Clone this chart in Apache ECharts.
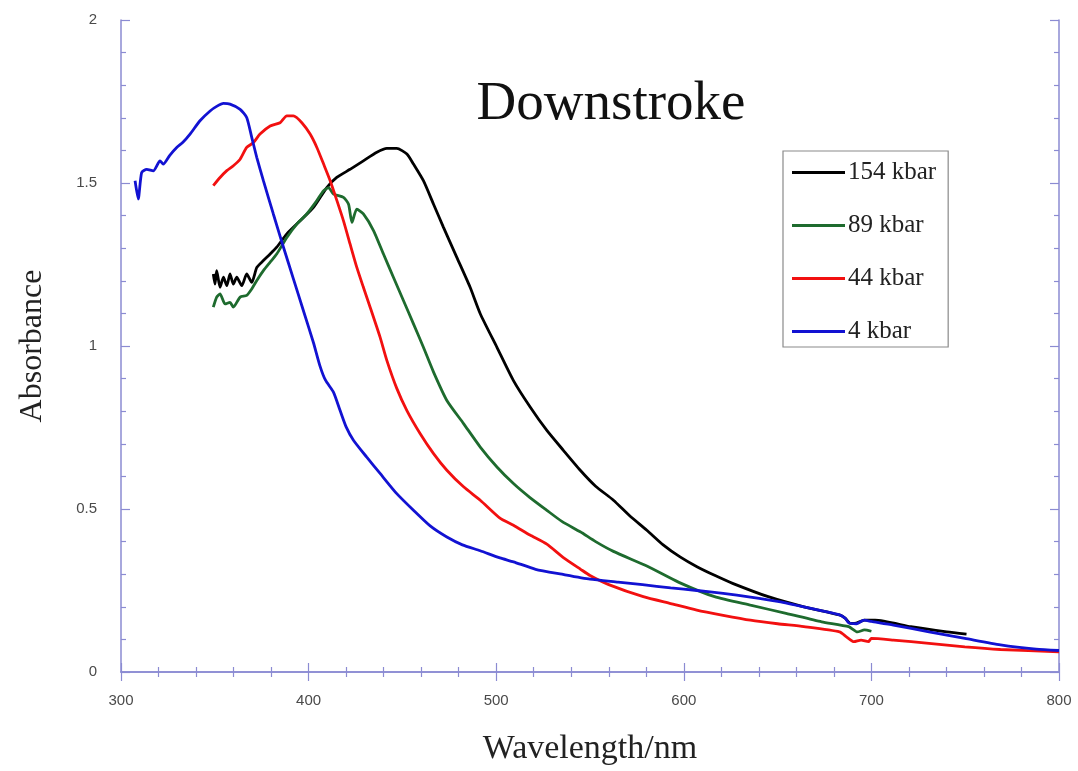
<!DOCTYPE html>
<html>
<head>
<meta charset="utf-8">
<script src="https://cdn.jsdelivr.net/npm/echarts@6/dist/echarts.min.js"></script>
<style>
  html, body { margin: 0; padding: 0; background: #fff; }
  #chart { width: 1078px; height: 771px; }
</style>
</head>
<body>
<div id="chart"></div>
<script>
// Absorption spectra on the downstroke, one series per pressure.
const seriesNames = ['154 kbar', '89 kbar', '44 kbar', '4 kbar'];
const seriesColors = ['#000000', '#1e6b2e', '#f21010', '#1212d2'];

const wl154 = [349.2, 350.1, 351, 352.8, 354.6, 356.4, 358.1, 359.9, 361.7, 364.4, 367, 369.7, 372.4, 375.9, 379.5, 383, 388.4, 395.5, 402.6, 409.7, 415, 422.1, 429.2, 436.4, 441.7, 447, 452.4, 455.9, 461.2, 466.6, 471.9, 479, 486.1, 491.5, 500.4, 509.2, 518.1, 527, 535.8, 544.8, 553, 562.5, 571, 580.3, 589, 598, 607, 617, 626, 645, 664, 683, 686, 688.8, 692, 696.3, 702, 721, 740.2, 750.7];
const abs154 = [1.221, 1.190, 1.231, 1.180, 1.211, 1.185, 1.221, 1.190, 1.211, 1.185, 1.221, 1.195, 1.241, 1.262, 1.282, 1.303, 1.344, 1.384, 1.425, 1.486, 1.517, 1.542, 1.568, 1.594, 1.606, 1.606, 1.589, 1.558, 1.507, 1.435, 1.364, 1.272, 1.180, 1.099, 0.996, 0.894, 0.813, 0.741, 0.680, 0.619, 0.570, 0.527, 0.480, 0.435, 0.390, 0.353, 0.323, 0.295, 0.272, 0.231, 0.200, 0.175, 0.165, 0.149, 0.150, 0.159, 0.159, 0.139, 0.123, 0.116];

const wl89 = [349.2, 351, 352.8, 355.5, 358.1, 359.9, 363.5, 367, 369.7, 372.4, 375.9, 379.5, 383, 388.4, 393.7, 399, 404.4, 407.9, 410.6, 413.3, 418.6, 421.3, 423.1, 425.7, 429.2, 434.6, 439.9, 445.2, 450.6, 455.9, 461.2, 466.6, 473.7, 482.6, 491.5, 500.4, 509.2, 518, 527, 535, 544.8, 553, 562.5, 580.3, 597.4, 616.4, 635.5, 654.5, 673.5, 687.9, 692.5, 696.3, 700];
const abs89 = [1.119, 1.150, 1.160, 1.129, 1.134, 1.119, 1.150, 1.155, 1.175, 1.201, 1.231, 1.257, 1.282, 1.333, 1.374, 1.405, 1.446, 1.476, 1.486, 1.466, 1.456, 1.435, 1.379, 1.420, 1.405, 1.354, 1.282, 1.211, 1.139, 1.068, 0.996, 0.920, 0.833, 0.762, 0.690, 0.629, 0.578, 0.535, 0.496, 0.462, 0.430, 0.400, 0.370, 0.325, 0.275, 0.231, 0.205, 0.180, 0.154, 0.139, 0.123, 0.129, 0.125];

const wl44 = [349.2, 352.8, 356.4, 359.9, 363.5, 367, 370.6, 374.1, 379.5, 384.8, 388.4, 391.9, 396.4, 400.8, 404.4, 408, 411.5, 415.1, 418.6, 422.1, 425.7, 429.2, 432.8, 438.1, 441.7, 447, 452.4, 459.5, 466.6, 473.7, 482.6, 491.5, 502, 509.2, 518, 527, 536, 545, 550, 560, 578.4, 593, 606.9, 621, 635.5, 650, 664, 683, 686.7, 690.7, 694.5, 698.4, 700, 711.7, 730.7, 749.8, 768.8, 800];
const abs44 = [1.492, 1.517, 1.538, 1.553, 1.573, 1.609, 1.624, 1.650, 1.675, 1.685, 1.706, 1.706, 1.685, 1.650, 1.609, 1.558, 1.507, 1.446, 1.384, 1.313, 1.241, 1.180, 1.119, 1.027, 0.956, 0.870, 0.802, 0.731, 0.670, 0.619, 0.568, 0.527, 0.472, 0.450, 0.420, 0.392, 0.350, 0.315, 0.296, 0.268, 0.231, 0.210, 0.190, 0.174, 0.159, 0.148, 0.139, 0.123, 0.108, 0.093, 0.098, 0.093, 0.103, 0.098, 0.088, 0.077, 0.069, 0.062];

const wl4 = [307.5, 309.2, 311, 313.7, 317.2, 320.8, 322.5, 326, 329.7, 333, 336.8, 342.1, 347.5, 351, 354.6, 358.1, 363.5, 367, 369.7, 372.4, 375.9, 381.2, 386.6, 391.9, 397.2, 402.6, 406, 409, 413.3, 416.8, 420, 423.9, 431, 438.1, 447, 455.9, 464.8, 473.7, 482, 491.5, 502, 509.2, 521, 535, 550, 565, 578, 593, 607, 621, 635.5, 650, 664, 675, 683, 686, 688, 692, 696, 700, 711.7, 730.7, 749.8, 768.8, 787.8, 800];
const abs4 = [1.507, 1.451, 1.532, 1.542, 1.537, 1.568, 1.558, 1.585, 1.609, 1.625, 1.650, 1.691, 1.721, 1.735, 1.744, 1.742, 1.726, 1.701, 1.640, 1.578, 1.507, 1.405, 1.303, 1.206, 1.109, 1.010, 0.940, 0.895, 0.858, 0.802, 0.752, 0.711, 0.659, 0.609, 0.547, 0.496, 0.448, 0.414, 0.390, 0.372, 0.350, 0.338, 0.315, 0.300, 0.285, 0.276, 0.268, 0.258, 0.250, 0.241, 0.230, 0.217, 0.200, 0.186, 0.175, 0.165, 0.150, 0.148, 0.159, 0.155, 0.144, 0.123, 0.103, 0.083, 0.070, 0.066];

const xTicks = { min: 300, max: 800, step: 100 };
const yTicks = { min: 0, max: 2, step: 0.5 };

const wavelengths = [wl154, wl89, wl44, wl4];
const absorbances = [abs154, abs89, abs44, abs4];

function pairs(xs, ys) {
  return xs.map((x, i) => [x, ys[i]]);
}

const axisColor = '#8b8bd2';
const serif = "'Liberation Serif', 'Times New Roman', serif";
const sans = "'Liberation Sans', Arial, sans-serif";

function xAxisOf(position, showLabels) {
  return {
    type: 'value', position: position,
    min: xTicks.min, max: xTicks.max, interval: xTicks.step,
    axisLine: { show: true, lineStyle: { color: axisColor, width: 1.5 } },
    axisTick: { show: true, inside: true, length: 9, lineStyle: { color: axisColor, width: 1.2 } },
    minorTick: { show: true, splitNumber: 5, length: 5, lineStyle: { color: axisColor, width: 1.2 } },
    splitLine: { show: false },
    axisLabel: { show: showLabels, margin: 21, color: '#4a4a4a', fontSize: 15, fontFamily: sans },
    name: showLabels ? 'Wavelength/nm' : '',
    nameLocation: 'middle', nameGap: 60,
    nameTextStyle: { fontFamily: serif, fontSize: 34, color: '#222' }
  };
}

function yAxisOf(position, showLabels) {
  return {
    type: 'value', position: position,
    min: yTicks.min, max: yTicks.max, interval: yTicks.step,
    axisLine: { show: true, lineStyle: { color: axisColor, width: 1.5 } },
    axisTick: { show: true, inside: true, length: 9, lineStyle: { color: axisColor, width: 1.2 } },
    minorTick: { show: true, splitNumber: 5, length: 5, lineStyle: { color: axisColor, width: 1.2 } },
    splitLine: { show: false },
    axisLabel: { show: showLabels, margin: 24, color: '#4a4a4a', fontSize: 15, fontFamily: sans },
    name: showLabels ? 'Absorbance' : '',
    nameLocation: 'middle', nameGap: 72,
    nameTextStyle: { fontFamily: serif, fontSize: 32, color: '#222' }
  };
}

const chart = echarts.init(document.getElementById('chart'), null, { renderer: 'canvas' });

chart.setOption({
  animation: false,
  backgroundColor: '#ffffff',
  grid: { left: 121, right: 19, top: 20, bottom: 99, containLabel: false, outerBoundsMode: 'none' },
  title: {
    text: 'Downstroke',
    left: 606, top: 72, textAlign: 'center',
    textStyle: { fontFamily: serif, fontSize: 55, fontWeight: 'normal', color: '#111' }
  },
  legend: {
    orient: 'vertical',
    left: 783, top: 151,
    padding: [9, 12, 3, 9],
    itemGap: 28,
    itemWidth: 53, itemHeight: 3,
    icon: 'rect',
    borderColor: '#8a8a8a', borderWidth: 1.2,
    backgroundColor: '#ffffff',
    textStyle: { fontFamily: serif, fontSize: 25, color: '#222', padding: [0, 0, 0, -2] },
    data: seriesNames
  },
  xAxis: [xAxisOf('bottom', true), xAxisOf('top', false)],
  yAxis: [yAxisOf('left', true), yAxisOf('right', false)],
  series: seriesNames.map((name, i) => ({
    name: name,
    type: 'line',
    xAxisIndex: 0, yAxisIndex: 0,
    data: pairs(wavelengths[i], absorbances[i]),
    showSymbol: false,
    smooth: 0.2,
    lineStyle: { color: seriesColors[i], width: 2.8 },
    itemStyle: { color: seriesColors[i] }
  }))
});
</script>
</body>
</html>
